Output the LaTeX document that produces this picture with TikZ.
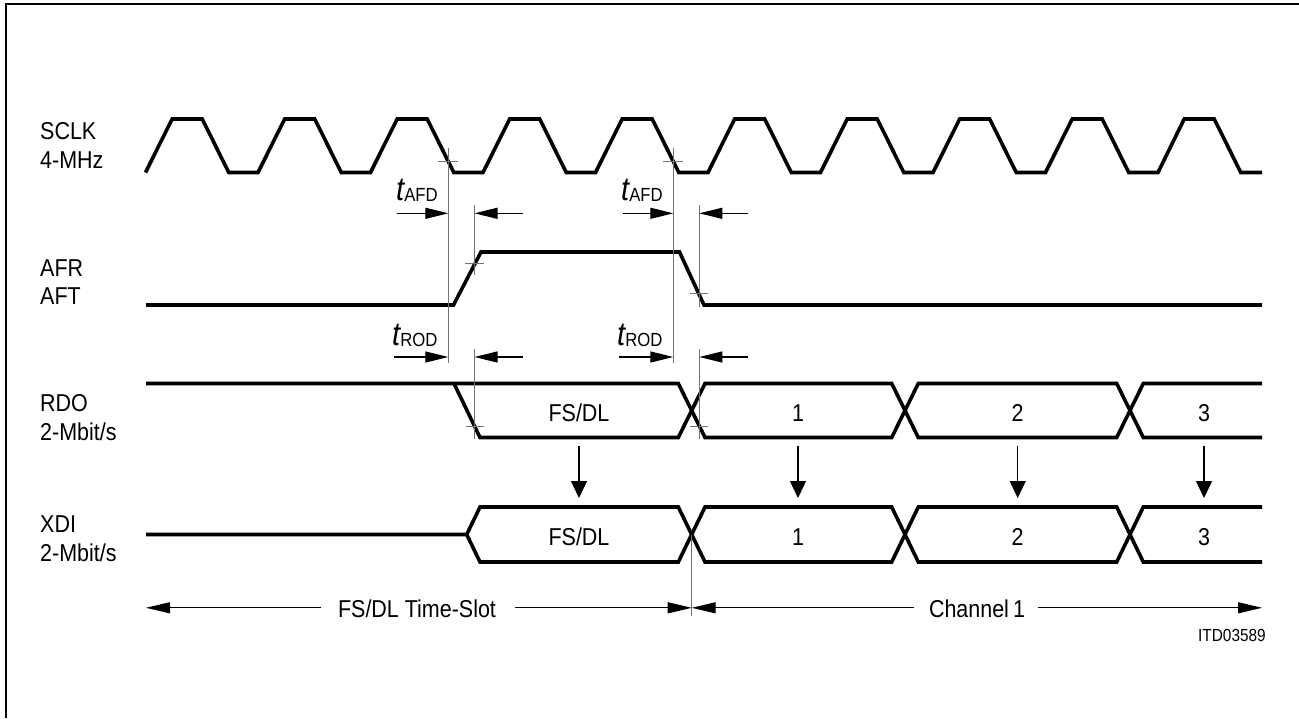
\documentclass[tikz,border=0pt]{standalone}
\usepackage{fontspec}
\setmainfont[FakeStretch=0.88]{Liberation Sans}
\usetikzlibrary{arrows.meta}
\newcommand\tlab[1]{{\fontsize{33}{33}\selectfont\itshape t}\raisebox{-1.5pt}{\fontsize{19}{19}\selectfont #1}}
\begin{document}
\begin{tikzpicture}[x=1pt,y=-1pt,
  sig/.style={line width=3.6pt},
  thinl/.style={line width=0.9pt, draw=black!55},
  dim/.style={line width=1.1pt, -{Triangle[length=23pt,width=11pt]}},
  dimb/.style={line width=1.1pt, -{Triangle[length=24pt,width=11pt]}},
  downar/.style={line width=1.3pt, -{Triangle[length=17pt,width=16pt]}},
  lab/.style={font=\fontsize{24.4}{24.4}\selectfont, inner sep=0pt},
  small/.style={font=\fontsize{17.5}{17.5}\selectfont, inner sep=0pt},
]
\useasboundingbox (0,0) rectangle (1299,718);
% frame
\draw[line width=2.7pt] (6,718) -- (6,4) -- (1299,4);

% signal labels
\node[lab, anchor=base west] (sclk) at (40,139.75) {SCLK};
\node[lab, anchor=base west] (mhz)  at (40,168.75) {4-MHz};
\node[lab, anchor=base west] (afr)  at (40,276.75) {AFR};
\node[lab, anchor=base west] (aft)  at (40,304.75) {AFT};
\node[lab, anchor=base west] (rdo)  at (40,411.75) {RDO};
\node[lab, anchor=base west] (rdor) at (40,440.75) {2-Mbit/s};
\node[lab, anchor=base west] (xdi)  at (40,532.75) {XDI};
\node[lab, anchor=base west] (xdir) at (40,561.75) {2-Mbit/s};

% SCLK
\draw[sig] (145.5,172.5)
  \foreach \k in {0,...,8}{
    -- ({145.5+\k*112.5+26.7},119) -- ({145.5+\k*112.5+56.7},119)
    -- ({145.5+\k*112.5+83.3},172.5) -- ({145.5+(\k+1)*112.5},172.5)}
  -- (1184.2,119) -- (1214.2,119) -- (1240.8,172.5) -- (1262,172.5);

% AFR / AFT
\draw[sig] (146,305) -- (453.5,305) -- (481,252) -- (679.5,252) -- (704,305) -- (1262,305);

% RDO
\draw[sig] (146,383.5) -- (678.3,383.5) -- (705,437.5) -- (891.7,437.5) -- (918.3,383.5)
  -- (1116.7,383.5) -- (1143.3,437.5) -- (1262,437.5);
\draw[sig] (454,383.5) -- (480,437.5) -- (678.3,437.5) -- (705,383.5) -- (891.7,383.5)
  -- (918.3,437.5) -- (1116.7,437.5) -- (1143.3,383.5) -- (1262,383.5);

% XDI
\draw[sig] (146,534.5) -- (466.7,534.5) -- (480,507) -- (678.3,507) -- (705,562) -- (891.7,562)
  -- (918.3,507) -- (1116.7,507) -- (1143.3,562) -- (1262,562);
\draw[sig] (466.7,534.5) -- (480,562) -- (678.3,562) -- (705,507) -- (891.7,507)
  -- (918.3,562) -- (1116.7,562) -- (1143.3,507) -- (1262,507);

% data labels
\node[lab, anchor=base] (r0) at (579,421) {FS/DL};
\node[lab, anchor=base] (r1) at (798,421) {1};
\node[lab, anchor=base] (r2) at (1017.7,421) {2};
\node[lab, anchor=base] (r3) at (1204,421) {3};
\node[lab, anchor=base] (x0) at (579,545) {FS/DL};
\node[lab, anchor=base] (x1) at (798,545) {1};
\node[lab, anchor=base] (x2) at (1017.7,545) {2};
\node[lab, anchor=base] (x3) at (1204,545) {3};

% transfer arrows
\foreach \x in {579,798,1017.7,1204}
  \draw[downar] (\x,446) -- (\x,498);

% timing reference lines
\draw[thinl] (448.3,148) -- (448.3,363);
\draw[thinl] (474.5,205) -- (474.5,275);
\draw[thinl] (474.5,349) -- (474.5,439);
\draw[thinl] (673.3,148) -- (673.3,363);
\draw[thinl] (699.3,205) -- (699.3,307);
\draw[thinl] (699.3,349) -- (699.3,439);
\draw[thinl] (691.7,534.5) -- (691.7,615.5);
% crossing ticks
\draw[thinl] (438,161.7) -- (458,161.7);
\draw[thinl] (663,161.7) -- (683,161.7);
\draw[thinl] (465,263.3) -- (484,263.3);
\draw[thinl] (690,293.3) -- (708,293.3);
\draw[thinl] (466,426) -- (484,426);
\draw[thinl] (690,426) -- (708,426);

% t_AFD
\node[anchor=base west, inner sep=0pt] (afd1) at (396,200) {\tlab{AFD}};
\node[anchor=base west, inner sep=0pt] (afd2) at (621,200) {\tlab{AFD}};
\draw[dim] (396.7,213.3) -- (448.3,213.3);
\draw[dim] (522.7,213.3) -- (474.5,213.3);
\draw[dim] (622.7,213.3) -- (673.3,213.3);
\draw[dim] (748.3,213.3) -- (699.3,213.3);
% t_ROD
\node[anchor=base west, inner sep=0pt] (rod1) at (392,345) {\tlab{ROD}};
\node[anchor=base west, inner sep=0pt] (rod2) at (617,345) {\tlab{ROD}};
\draw[dim] (394,357) -- (448.3,357);
\draw[dim] (522.7,357) -- (474.5,357);
\draw[dim] (619,357) -- (673.3,357);
\draw[dim] (748.3,357) -- (699.3,357);

% bottom dimension
\node[lab, anchor=base] (ts) at (417,617) {FS/DL Time-Slot};
\node[lab, anchor=base] (ch) at (977,617) {Channel\,1};
\draw[dimb] (321.4,607.8) -- (146,607.8);
\draw[dimb] (514.6,607.8) -- (691.7,607.8);
\draw[dimb] (914,607.8) -- (691.7,607.8);
\draw[dimb] (1038,607.8) -- (1262,607.8);
\node[small, anchor=base east] (id) at (1266,641) {ITD03589};
\end{tikzpicture}
\end{document}
